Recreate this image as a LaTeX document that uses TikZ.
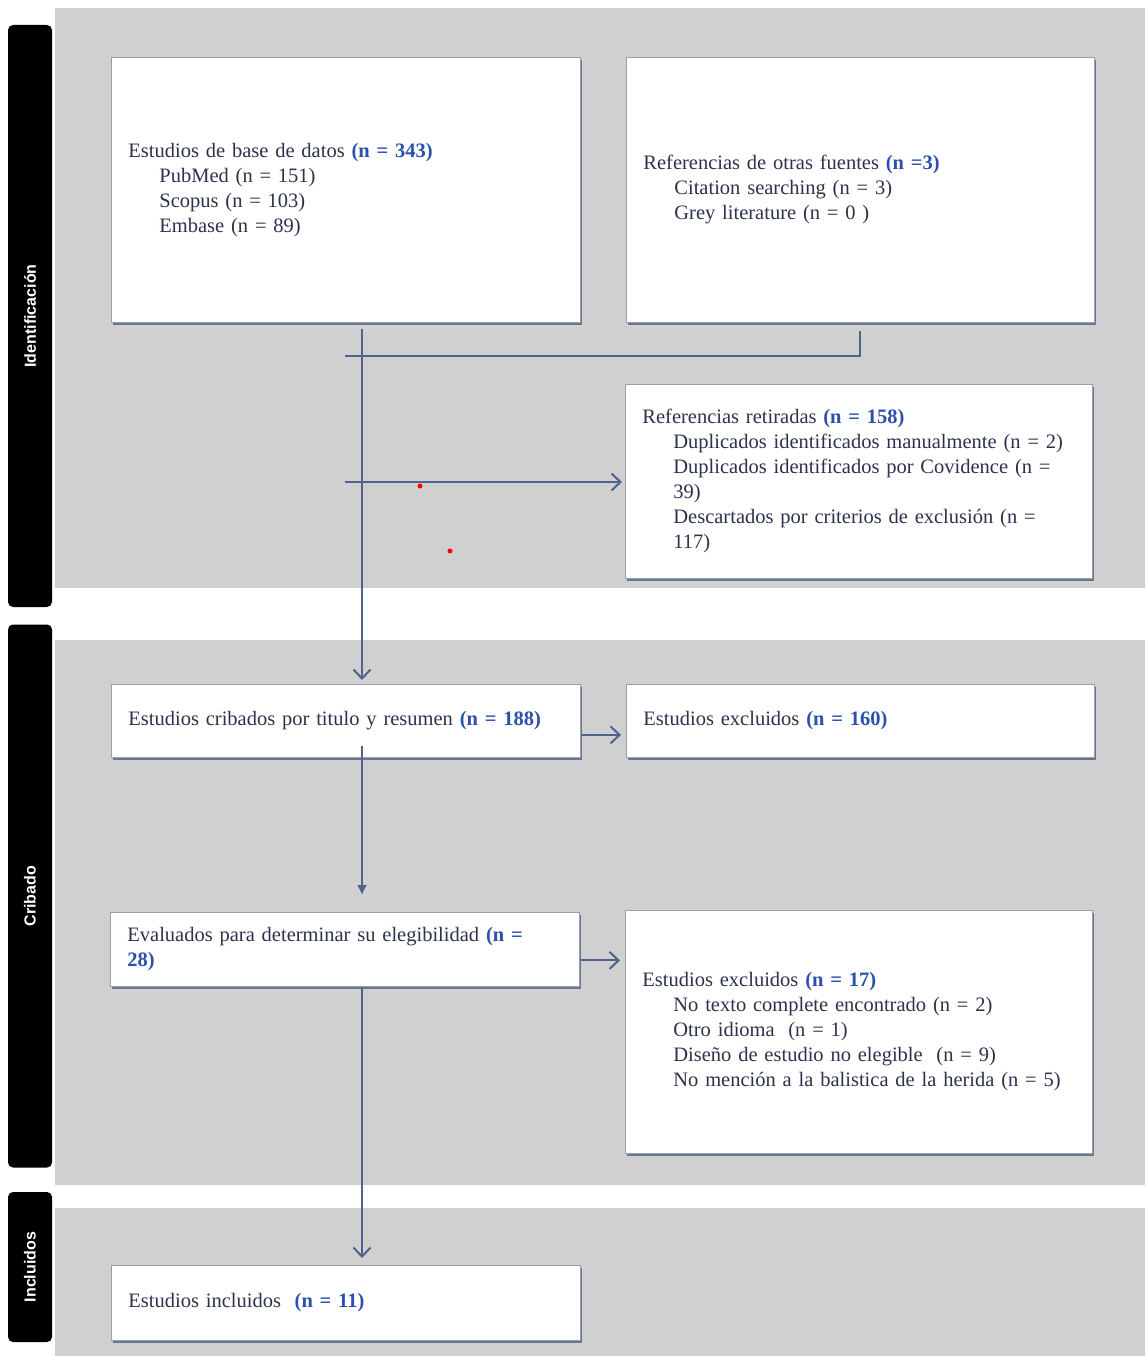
\documentclass[tikz,border=0pt]{standalone}
\usepackage{fontspec}
\setmainfont{Liberation Serif}
\newfontfamily\tabfont{Liberation Sans}
\usepackage{xcolor}
\usetikzlibrary{positioning,arrows.meta,shadows}

\definecolor{bandgray}{RGB}{208,208,208}
\definecolor{txt}{RGB}{45,50,75}
\definecolor{nblue}{RGB}{45,80,175}
\definecolor{arrowc}{RGB}{78,100,138}
\definecolor{boxedge}{RGB}{150,160,180}
\definecolor{boxshadow}{RGB}{105,118,142}

\newcommand{\nb}[1]{\textcolor{nblue}{\textbf{#1}}}
\newcommand{\ind}{\hspace*{31pt}}

\tikzset{
  flowbox/.style={rectangle, draw=boxedge, line width=.8pt, fill=white,
    drop shadow={shadow xshift=2pt, shadow yshift=-2.5pt, fill=boxshadow, opacity=1},
    anchor=north west, align=left, inner xsep=17pt, inner ysep=0pt, text=txt,
    font=\fontsize{20.5}{25}\selectfont},
  tab/.style={fill=black, rounded corners=5pt, rotate=90, text=white,
    font=\tabfont\bfseries\fontsize{16}{16}\selectfont},
  link/.style={draw=arrowc, line width=2pt},
  arr/.style={link, -{Straight Barb[length=9pt,width=17pt]}},
}

\begin{document}
\begin{tikzpicture}[x=1pt,y=-1pt]
	\useasboundingbox (0,0) rectangle (1145,1356);
	% grey bands
	\fill[bandgray] (55,8) rectangle (1145,588);
	\fill[bandgray] (55,640) rectangle (1145,1185);
	\fill[bandgray] (55,1208) rectangle (1145,1356);

	% side tabs
	\node[tab, minimum width=582pt, minimum height=44pt] (tabid) at (30,316) {Identificación};
	\node[tab, minimum width=543pt, minimum height=44pt] (tabcrib) at (30,896) {Cribado};
	\node[tab, minimum width=150pt, minimum height=44pt] (tabincl) at (30,1267) {Incluidos};

	% boxes
	\node[flowbox, text width=435pt, minimum height=265pt] (dbbox) at (111,57)
	{Estudios de base de datos \nb{(n = 343)}\\ \ind PubMed (n = 151)\\ \ind Scopus (n = 103)\\ \ind Embase (n = 89)};
	\node[flowbox, text width=434pt, minimum height=265pt] (othbox) at (626,57)
	{Referencias de otras fuentes \nb{(n =3)}\\ \ind Citation searching (n = 3)\\ \ind Grey literature (n = 0 )};
	\node[flowbox, text width=433pt, minimum height=194pt] (removed) at (625,384)
	{Referencias retiradas \nb{(n = 158)}\\ \ind Duplicados identificados manualmente (n = 2)\\ \ind Duplicados identificados por Covidence (n =\\ \ind 39)\\ \ind Descartados por criterios de exclusión (n =\\ \ind 117)};
	\node[flowbox, text width=435pt, minimum height=73pt] (screen) at (111,684)
	{Estudios cribados por titulo y resumen \nb{(n = 188)}};
	\node[flowbox, text width=434pt, minimum height=73pt] (excl1) at (626,684)
	{Estudios excluidos \nb{(n = 160)}};
	\node[flowbox, text width=435pt, minimum height=74pt] (elig) at (110,912)
	{Evaluados para determinar su elegibilidad \nb{(n =}\\ \nb{28)}};
	\node[flowbox, text width=433pt, minimum height=243pt] (excl2) at (625,910)
	{Estudios excluidos \nb{(n = 17)}\\ \ind No texto complete encontrado (n = 2)\\ \ind Otro idioma \ (n = 1)\\ \ind Diseño de estudio no elegible \ (n = 9)\\ \ind No mención a la balistica de la herida (n = 5)};
	\node[flowbox, text width=435pt, minimum height=75pt] (incl) at (111,1265)
	{Estudios incluidos \ \nb{(n = 11)}};

	% connectors
	\coordinate (col) at (362,0);
	\coordinate (merge) at (345,356);
	\coordinate (split) at (345,482);
	\draw[link] ([yshift=-8pt]othbox.south) |- (merge);
	\draw[arr, shorten <=6pt, shorten >=4pt] (col |- dbbox.south) -- (col |- screen.north);
	\draw[arr, shorten >=3pt] (split) -- (split -| removed.west);

	\coordinate (ca) at ([yshift=-14pt]screen.east);
	\draw[arr, shorten >=5pt] (ca) -- (ca -| excl1.west);
	\draw[link, -{Latex[length=10pt,width=10pt]}, shorten <=-12pt, shorten >=17pt] (col |- screen.south) -- (col |- elig.north);

	\coordinate (fa) at ([yshift=-11pt]elig.east);
	\draw[arr, shorten >=5pt] (fa) -- (fa -| excl2.west);
	\draw[arr, shorten >=7pt] (col |- elig.south) -- (col |- incl.north);

	% stray marks
	\fill[red] (420,486) circle (2.5);
	\fill[red] (450,551) circle (2.5);
\end{tikzpicture}
\end{document}
